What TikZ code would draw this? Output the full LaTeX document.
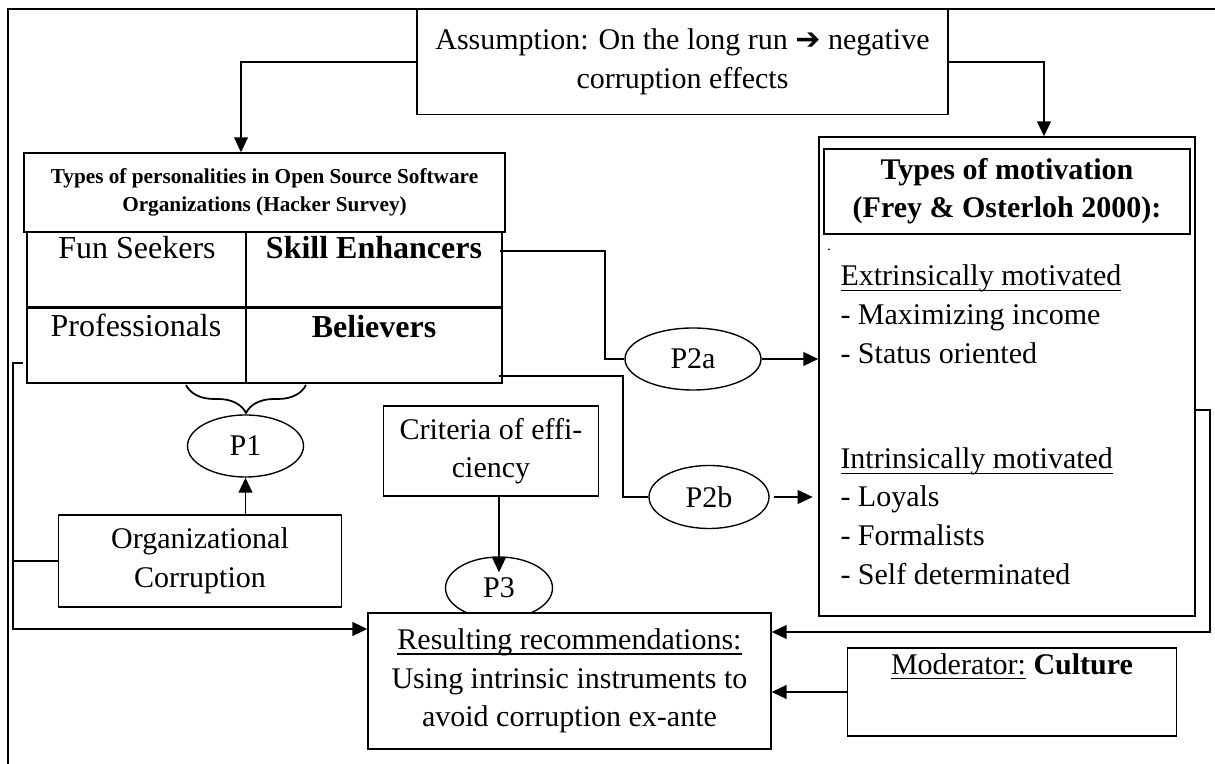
\documentclass[tikz,border=0pt]{standalone}
\usepackage{fontspec}
\setmainfont{Liberation Serif}
\newfontfamily\arrowfont{DejaVu Sans}
\newcommand\uln[1]{\setbox0\hbox{#1}\rlap{\vrule height -1.5pt depth 2.05pt width \wd0}\box0\relax}
\usepackage{tikz}
\usetikzlibrary{calc,positioning,arrows.meta,shapes.geometric,decorations.pathreplacing}

\tikzset{
  box/.style={draw, rectangle, line width=0.55pt, inner sep=0pt, align=center, fill=white},
  pnode/.style={draw, ellipse, line width=0.55pt, inner sep=0pt, fill=white},
  gridline/.style={line width=0.9pt},
  conn/.style={line width=0.7pt},
  celltext/.style={anchor=base, inner sep=0pt, font=\fontsize{12.8}{15.4}\selectfont},
  itemtext/.style={anchor=base west, inner sep=0pt},
}

\begin{document}
\begin{tikzpicture}[x=0.4pt,y=-0.4pt,>={Triangle[length=6pt,width=5.5pt]},font=\fontsize{12}{15.4}\selectfont]
    \useasboundingbox (0,0) rectangle (1215,764);
    \draw[conn] (8,764) -- (8,9) -- (1215,9);
    %
    \node[box, minimum width=212.4pt, minimum height=42pt] (assumption) at (682.5,62)
        {Assumption: On the long run {\arrowfont\bfseries ➔} negative\\ corruption effects};
    \node[box, minimum width=192.4pt, minimum height=31.6pt, font=\bfseries\fontsize{8.5}{11.2}\selectfont] (types) at (264.5,192.5)
        {Types of personalities in Open Source Software\\ Organizations (Hacker Survey)};
    \node[draw, gridline, rectangle, minimum width=190pt, minimum height=60.4pt] (grid) at (264.5,307.5) {};
    \draw[gridline] (grid.west) -- (grid.east);
    \draw[gridline] ($(grid.north west)+(220,0)$) -- ($(grid.south west)+(220,0)$);
    \node[celltext] (funseekers) at (137,259) {Fun Seekers};
    \node[celltext] (skill) at (374,259) {\textbf{Skill Enhancers}};
    \node[celltext] (professionals) at (136,337) {Professionals};
    \node[celltext] (believers) at (374,338) {\textbf{Believers}};
    %
    \draw[conn, decorate, decoration={brace, amplitude=11.2pt}] (306,385) -- (186,385);
    \node[pnode, minimum width=46.4pt, minimum height=24.8pt] (p1) at (245.5,446) {P1};
    \node[box, minimum width=113.4pt, minimum height=36.8pt] (orgcorr) at (200,561) {Organizational\\ Corruption};
    \node[box, minimum width=85.8pt, minimum height=36pt] (criteria) at (491,451) {Criteria of effi-\\ ciency};
    \node[pnode, minimum width=42.8pt, minimum height=24.8pt] (p3) at (499,588) {P3};
    \draw[conn,->] (criteria.south -| p3.north) -- ($(p3.north)+(0,16)$);
    \node[box, minimum width=161.2pt, minimum height=54.4pt] (resulting) at (569.5,681)
        {\uln{Resulting recommendations:}\\ Using intrinsic instruments to\\ avoid corruption ex-ante};
    %
    \node[box, minimum width=150.4pt, minimum height=191.6pt] (motivation) at (1007,376.5) {};
    \node[box, line width=0.9pt, minimum width=146.4pt, minimum height=34pt, font=\bfseries\fontsize{12}{15.2}\selectfont] (motivtitle) at (1007,191.5)
        {Types of motivation\\ (Frey \& Osterloh 2000):};
    \node[inner sep=0pt, font=\fontsize{6}{6}\selectfont] (dot) at (829,250) {.};
    \node[itemtext] (extrinsic) at (840,286) {\uln{Extrinsically motivated}};
    \node[itemtext] (income) at (840,325) {- Maximizing income};
    \node[itemtext] (status) at (840,364) {- Status oriented};
    \node[itemtext] (intrinsic) at (840,469) {\uln{Intrinsically motivated}};
    \node[itemtext] (loyals) at (840,507) {- Loyals};
    \node[itemtext] (formalists) at (840,546) {- Formalists};
    \node[itemtext] (selfdet) at (840,585) {- Self determinated};
    %
    \node[pnode, minimum width=54.4pt, minimum height=24.8pt] (p2a) at (693,359) {P2a};
    \node[pnode, minimum width=48pt, minimum height=25.2pt] (p2b) at (709,497) {P2b};
    \node[box, minimum width=131.4pt, minimum height=35.2pt] (moderator) at (1012,692) {};
    \node[anchor=base, inner sep=0pt] (modlabel) at ($(moderator.north)+(0,27)$) {\uln{Moderator:} \textbf{Culture}};
    %
    \draw[conn,->] (assumption.west) -| ($(types.north)+(-23.5,0)$);
    \draw[conn,->] (assumption.east) -| ($(motivation.north)+(37,0)$);
    \draw[conn] ($(grid.north east)+(-3,20)$) -| ($(p2a.west)+(-19,0)$) -- (p2a.west);
    \draw[conn,->] (p2a.east) -- (p2a.east -| motivation.west);
    \draw[conn] ($(grid.south east)+(-4,-8)$) -| ($(p2b.west)+(-25,0)$) -- (p2b.west);
    \draw[conn,->] ($(p2b.east)+(4,0)$) -- ++(39,0);
    \draw[conn,->] (p1.south |- orgcorr.north) -- (p1.south);
    \draw[conn,->] ($(grid.west)+(-3,55.5)$) -- ++(-10,0) |- ($(resulting.west)+(0,-52)$);
    \draw[conn] (orgcorr.west) -- ++(-44.5,0);
    \draw[conn,->] ($(motivation.east)+(0,33.5)$) -- ++(14,0) |- ($(resulting.east)+(0,-49)$);
    \draw[conn,->] (moderator.west) -- (moderator.west -| resulting.east);
\end{tikzpicture}
\end{document}
